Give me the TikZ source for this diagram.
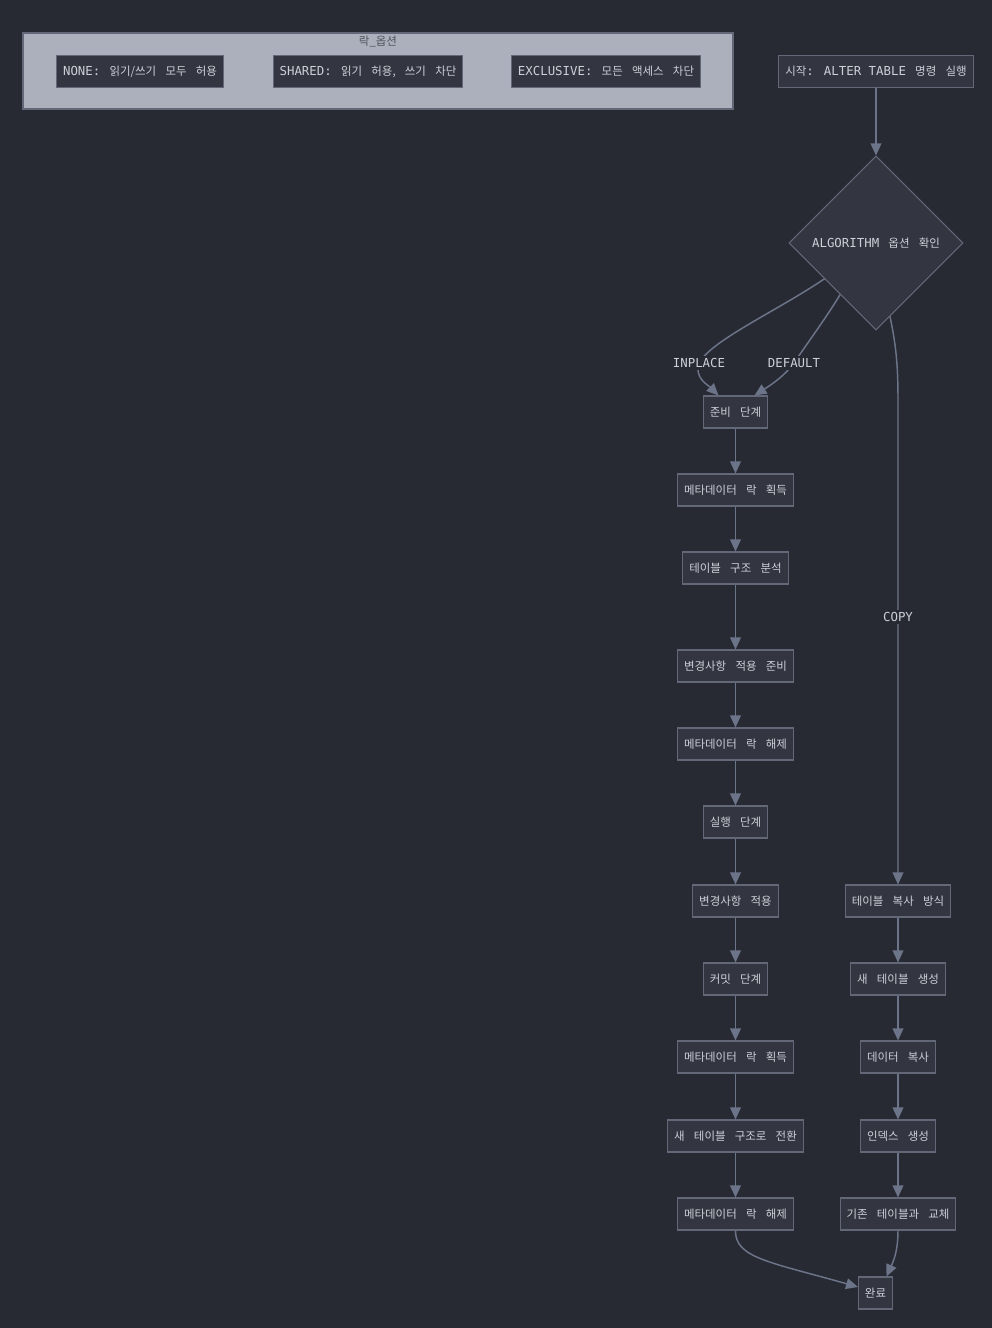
\documentclass[tikz,border=0pt]{standalone}
\usepackage{fontspec}
\setmainfont{Noto Sans CJK KR}[WordSpace={3.6,0,0}]
\newfontfamily\mono{DejaVu Sans Mono}[Scale=1.08]
\usetikzlibrary{arrows.meta,shapes.geometric,calc}

\definecolor{bgdark}{HTML}{282A33}
\definecolor{boxfill}{HTML}{333641}
\definecolor{boxline}{HTML}{626877}
\definecolor{flowline}{HTML}{6C7489}
\definecolor{txtlight}{HTML}{CDD0D7}
\definecolor{grpfill}{HTML}{ABB0BC}
\definecolor{grptxt}{HTML}{50545D}

\tikzset{
  stepbox/.style={draw=boxline, fill=boxfill, text=txtlight, line width=0.8pt,
    minimum height=24pt, inner xsep=4.8pt, font=\fontsize{8.6}{10}\selectfont},
  decide/.style={diamond, draw=boxline, fill=boxfill, text=txtlight, line width=0.8pt,
    minimum width=130.5pt, minimum height=130.5pt, inner sep=0pt, aspect=1,
    font=\fontsize{8.6}{10}\selectfont},
  lbl/.style={fill=bgdark, text=txtlight, inner sep=1.5pt, font=\mono\fontsize{8.6}{10}\selectfont},
  flow/.style={draw=flowline, line width=1.1pt, -{Triangle[length=9pt,width=8pt]}},
}

\begin{document}
\begin{tikzpicture}[x=0.75pt,y=-0.75pt]
    % Фон и рамка картинки
    \fill[bgdark] (0,0) rectangle (992,1328);
    \useasboundingbox (0,0) rectangle (992,1328);

    % Группа: опции блокировки
    \draw[fill=grpfill, draw=boxline, line width=0.8pt] (23,33) rectangle (733,109);
    \node[text=grptxt, font=\fontsize{8.6}{10}\selectfont] (grp) at (378,42) {락\_옵션};
    \node[stepbox] (none) at (140,71.5) {{\mono NONE:} 읽기/쓰기 모두 허용};
    \node[stepbox] (shared) at (368,71.5) {{\mono SHARED:} 읽기 허용, 쓰기 차단};
    \node[stepbox] (excl) at (606,71.5) {{\mono EXCLUSIVE:} 모든 액세스 차단};

    % Начало и выбор алгоритма
    \node[stepbox] (start) at (876,71.5) {시작{\mono :} {\mono ALTER TABLE} 명령 실행};
    \node[decide] (algo) at (876,243) {{\mono ALGORITHM} 옵션 확인};

    % Левая колонка (INPLACE / DEFAULT)
    \node[stepbox] (prep) at (735.5,412) {준비 단계};
    \node[stepbox] (lock1) at (735.5,490) {메타데이터 락 획득};
    \node[stepbox] (anal) at (735.5,568) {테이블 구조 분석};
    \node[stepbox] (ready) at (735.5,666) {변경사항 적용 준비};
    \node[stepbox] (free1) at (735.5,744) {메타데이터 락 해제};
    \node[stepbox] (exec) at (735.5,822) {실행 단계};
    \node[stepbox] (apply) at (735.5,901) {변경사항 적용};
    \node[stepbox] (commit) at (735.5,979) {커밋 단계};
    \node[stepbox] (lock2) at (735.5,1057) {메타데이터 락 획득};
    \node[stepbox] (switch) at (735.5,1136) {새 테이블 구조로 전환};
    \node[stepbox] (free2) at (735.5,1214) {메타데이터 락 해제};

    % Правая колонка (COPY)
    \node[stepbox] (copyway) at (898,901) {테이블 복사 방식};
    \node[stepbox] (newtab) at (898,979) {새 테이블 생성};
    \node[stepbox] (datacp) at (898,1057) {데이터 복사};
    \node[stepbox] (index) at (898,1136) {인덱스 생성};
    \node[stepbox] (swap) at (898,1214) {기존 테이블과 교체};

    \node[stepbox] (done) at (875.5,1293) {완료};

    % Стрелки
    \draw[flow] (start) -- (algo);
    \draw[flow] ($(algo.west)!0.41!(algo.south)$) .. controls (775,312) and (712,340) .. (699,363)
        node[lbl] {INPLACE} .. controls (694,378) and (708,385) .. ($(prep.north)+(-17,0)$);
    \draw[flow] ($(algo.west)!0.59!(algo.south)$) .. controls (826,318) and (806,345) .. (794,363)
        node[lbl] {DEFAULT} .. controls (783,378) and (766,388) .. ($(prep.north)+(19,0)$);
    \draw[flow] ($(algo.south)!0.16!(algo.east)$) .. controls (896,345) and (898,365) .. (898,400)
        -- (898,617) node[lbl] {COPY} -- (copyway);

    \draw[flow] (prep) -- (lock1);
    \draw[flow] (lock1) -- (anal);
    \draw[flow] (anal) -- (ready);
    \draw[flow] (ready) -- (free1);
    \draw[flow] (free1) -- (exec);
    \draw[flow] (exec) -- (apply);
    \draw[flow] (apply) -- (commit);
    \draw[flow] (commit) -- (lock2);
    \draw[flow] (lock2) -- (switch);
    \draw[flow] (switch) -- (free2);

    \draw[flow] (copyway) -- (newtab);
    \draw[flow] (newtab) -- (datacp);
    \draw[flow] (datacp) -- (index);
    \draw[flow] (index) -- (swap);

    \draw[flow] (free2.south) .. controls (735,1258) and (770,1262) .. ($(done.west)+(0,-6)$);
    \draw[flow] (swap.south) .. controls (898,1252) and (893,1262) .. ($(done.north)+(11,0)$);
\end{tikzpicture}
\end{document}
